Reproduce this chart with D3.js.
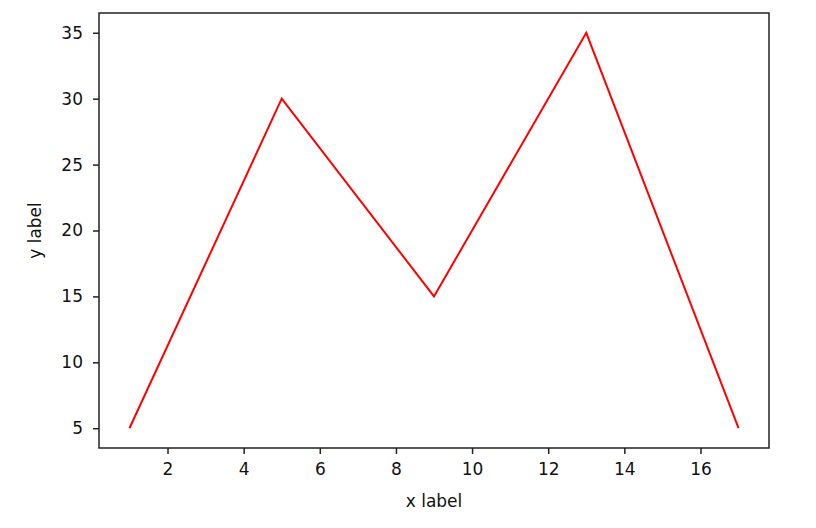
<!DOCTYPE html>
<html>
<head>
<meta charset="utf-8">
<script src="https://cdn.jsdelivr.net/npm/d3@7"></script>
<style>
  body { margin: 0; background: #fff; }
  text { font-family: "DejaVu Sans", sans-serif; }
</style>
</head>
<body>
<div id="chart"></div>
<script>
// data
var xValues = [1, 5, 9, 13, 17];
var yValues = [5, 30, 15, 35, 5];
var xTicks = [2, 4, 6, 8, 10, 12, 14, 16];
var yTicks = [5, 10, 15, 20, 25, 30, 35];

var w = 816, h = 528;
var margin = {top: 13, right: 47, bottom: 80, left: 99};
var width = w - margin.left - margin.right,
    height = h - margin.top - margin.bottom;

var svg = d3.select("#chart").append("svg")
    .attr("width", w)
    .attr("height", h);

var g = svg.append("g")
    .attr("transform", "translate(" + margin.left + "," + margin.top + ")");

// matplotlib style 5% margins
var x = d3.scaleLinear().domain([0.2, 17.8]).range([0, width]);
var y = d3.scaleLinear().domain([3.5, 36.5]).range([height, 0]);

var xAxis = d3.axisBottom(x).tickValues(xTicks).tickSize(6).tickPadding(9).tickFormat(d3.format("d"));
var yAxis = d3.axisLeft(y).tickValues(yTicks).tickSize(6).tickPadding(10).tickFormat(d3.format("d"));

var line = d3.line()
    .x(function(d, i) { return x(xValues[i]); })
    .y(function(d) { return y(d); });

g.append("path")
    .datum(yValues)
    .attr("fill", "none")
    .attr("stroke", "#ff0000")
    .attr("stroke-width", 2)
    .attr("d", line);

var gx = g.append("g")
    .attr("transform", "translate(0," + height + ")")
    .call(xAxis);
var gy = g.append("g").call(yAxis);

[gx, gy].forEach(function(a) {
    a.select(".domain").remove();
    a.attr("font-size", null).attr("font-family", null);
    a.selectAll("line").attr("stroke", "#222").attr("stroke-width", 1.5);
    a.selectAll("text").style("font-size", "17px").attr("fill", "#111")
        .style("font-family", "'DejaVu Sans', sans-serif");
});

// frame
g.append("rect")
    .attr("width", width)
    .attr("height", height)
    .attr("fill", "none")
    .attr("stroke", "#222")
    .attr("stroke-width", 1.5);

// axis labels
svg.append("text")
    .attr("x", margin.left + width / 2)
    .attr("y", 507)
    .attr("text-anchor", "middle")
    .style("font-size", "17px")
    .attr("fill", "#111")
    .text("x label");

svg.append("text")
    .attr("transform", "translate(41," + (margin.top + height / 2) + ") rotate(-90)")
    .attr("text-anchor", "middle")
    .style("font-size", "17px")
    .attr("fill", "#111")
    .text("y label");
</script>
</body>
</html>
